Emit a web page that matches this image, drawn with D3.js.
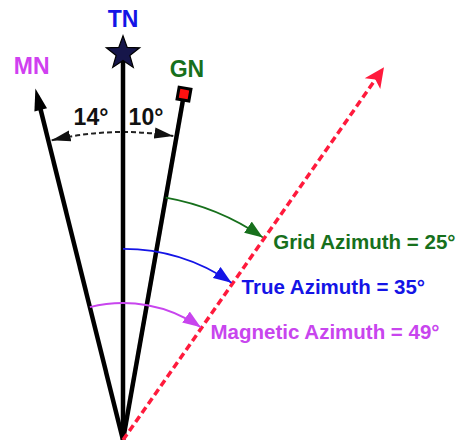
<!DOCTYPE html>
<html>
<head>
<meta charset="utf-8">
<script src="https://cdn.jsdelivr.net/npm/d3@7"></script>
<style>
  html, body { margin: 0; padding: 0; background: #fff; }
  svg text { font-family: "Liberation Sans", Arial, Helvetica, sans-serif; font-weight: bold; }
</style>
</head>
<body>
<svg id="chart" width="457" height="440"></svg>
<script>
"use strict";

// north references, degrees clockwise from true north
var northNames = ["MN", "TN", "GN"];
var northAngles = [-14, 0, 10];
var northColors = ["#d040f0", "#1414e6", "#17701c"];

// the bearing that is measured (true azimuth)
var bearing = 35;

// azimuths measured from each north
var azimuthNames = ["Grid Azimuth", "True Azimuth", "Magnetic Azimuth"];
var azimuthFrom = [10, 0, -14];
var azimuthValues = [25, 35, 49];
var azimuthColors = ["#17701c", "#1414e6", "#c845ee"];

// declination labels between MN-TN and TN-GN
var declLabels = ["14°", "10°"];

var svg = d3.select("#chart");
var ox = 123, oy = 440;

var ang = d3.scaleLinear().domain([0, 360]).range([0, 2 * Math.PI]);
var rad = d3.scaleLinear().domain([0, 1]).range([0, 455]);

function polar(deg, r) {
  var a = ang(deg);
  return [ox + r * Math.sin(a), oy - r * Math.cos(a)];
}

function arcPath(d0, d1, r) {
  var p = d3.path();
  p.arc(ox, oy, r, ang(d0) - Math.PI / 2, ang(d1) - Math.PI / 2, d1 < d0);
  return p.toString();
}

var defs = svg.append("defs");
function marker(id, color, len, wid) {
  defs.append("marker")
    .attr("id", id)
    .attr("markerUnits", "userSpaceOnUse")
    .attr("markerWidth", len + 2)
    .attr("markerHeight", wid + 2)
    .attr("viewBox", "0 0 " + len + " " + wid)
    .attr("refX", len)
    .attr("refY", wid / 2)
    .attr("orient", "auto-start-reverse")
    .append("path")
    .attr("d", "M0,0 L" + len + "," + (wid / 2) + " L0," + wid + " Z")
    .attr("fill", color);
}
marker("arr-black", "#111", 17, 10);
azimuthColors.forEach(function(c, i) {
  marker("arr-" + i, c, 16, 12);
});

// dashed declination arc
var declR = rad(0.677);
svg.append("path")
  .attr("d", arcPath(northAngles[0] + 0.6, northAngles[2] - 0.6, declR))
  .attr("fill", "none")
  .attr("stroke", "#222")
  .attr("stroke-width", 2)
  .attr("stroke-dasharray", "5,3")
  .attr("marker-start", "url(#arr-black)")
  .attr("marker-end", "url(#arr-black)");

// declination labels
svg.selectAll("text.decl")
  .data(declLabels)
  .enter()
  .append("text")
  .attr("class", "decl")
  .attr("x", function(d, i) { return i === 0 ? 91 : 146; })
  .attr("y", 125)
  .attr("text-anchor", "middle")
  .attr("font-size", 23)
  .attr("fill", "#111")
  .text(function(d) { return d; });

// north lines
var northLen = [rad(0.796), rad(0.85), rad(0.772)];
svg.selectAll("line.north")
  .data(northAngles)
  .enter()
  .append("line")
  .attr("class", "north")
  .attr("x1", ox).attr("y1", oy)
  .attr("x2", function(d, i) { return polar(d, northLen[i] - (i === 0 ? 8 : 0))[0]; })
  .attr("y2", function(d, i) { return polar(d, northLen[i] - (i === 0 ? 8 : 0))[1]; })
  .attr("stroke", "#000")
  .attr("stroke-width", 4.5);

// MN arrowhead
var mnTip = polar(northAngles[0], northLen[0]);
svg.append("path")
  .attr("d", "M0,0 L-6.5,22 L6.5,22 Z")
  .attr("fill", "#000")
  .attr("transform", "translate(" + mnTip[0] + "," + mnTip[1] + ") rotate(" + northAngles[0] + ")");

// TN star
var star = polar(northAngles[1], northLen[1]);
var starPts = d3.range(10).map(function(k) {
  var r = k % 2 === 0 ? 17.5 : 7.2;
  var a = k * Math.PI / 5;
  return [r * Math.sin(a), -r * Math.cos(a)];
});
svg.append("path")
  .attr("d", d3.line()(starPts) + "Z")
  .attr("transform", "translate(" + star[0] + "," + star[1] + ")")
  .attr("fill", "#16164a")
  .attr("stroke", "#000")
  .attr("stroke-width", 1.2);

// GN square
var gn = polar(northAngles[2], northLen[2]);
svg.append("rect")
  .attr("x", -6).attr("y", -6)
  .attr("width", 12).attr("height", 12)
  .attr("transform", "translate(" + gn[0] + "," + gn[1] + ") rotate(" + northAngles[2] + ")")
  .attr("fill", "#ff1010")
  .attr("stroke", "#000")
  .attr("stroke-width", 3);

// north labels
var labelR = [rad(0.83), rad(0.908), rad(0.81)];
svg.selectAll("text.north")
  .data(northNames)
  .enter()
  .append("text")
  .attr("class", "north")
  .attr("x", function(d, i) { return polar(northAngles[i], labelR[i])[0]; })
  .attr("y", function(d, i) { return polar(northAngles[i], labelR[i])[1]; })
  .attr("text-anchor", "middle")
  .attr("font-size", 23)
  .attr("fill", function(d, i) { return northColors[i]; })
  .text(function(d) { return d; });

// bearing line (red dashed arrow)
var tip = polar(bearing, rad(1));
var lineEnd = polar(bearing, rad(1) - 14);
svg.append("line")
  .attr("x1", ox).attr("y1", oy)
  .attr("x2", lineEnd[0]).attr("y2", lineEnd[1])
  .attr("stroke", "#ff1a3c")
  .attr("stroke-width", 3.5)
  .attr("stroke-dasharray", "7,4");
svg.append("path")
  .attr("d", "M0,0 L-9.5,20 L0,15 L9.5,20 Z")
  .attr("fill", "#ff1a3c")
  .attr("transform", "translate(" + tip[0] + "," + tip[1] + ") rotate(" + bearing + ")");

// azimuth arcs
var azR = [rad(0.541), rad(0.42), rad(0.301)];
svg.selectAll("path.az")
  .data(azimuthValues)
  .enter()
  .append("path")
  .attr("class", "az")
  .attr("d", function(d, i) { return arcPath(azimuthFrom[i], azimuthFrom[i] + d - 0.4, azR[i]); })
  .attr("fill", "none")
  .attr("stroke", function(d, i) { return azimuthColors[i]; })
  .attr("stroke-width", 1.8)
  .attr("marker-end", function(d, i) { return "url(#arr-" + i + ")"; });

svg.selectAll("text.az")
  .data(azimuthValues)
  .enter()
  .append("text")
  .attr("class", "az")
  .attr("x", function(d, i) { return polar(bearing, azR[i])[0] + 9; })
  .attr("y", function(d, i) { return polar(bearing, azR[i])[1] + 11; })
  .attr("font-size", 20.5)
  .attr("fill", function(d, i) { return azimuthColors[i]; })
  .text(function(d, i) { return azimuthNames[i] + " = " + d + "°"; });
</script>
</body>
</html>
